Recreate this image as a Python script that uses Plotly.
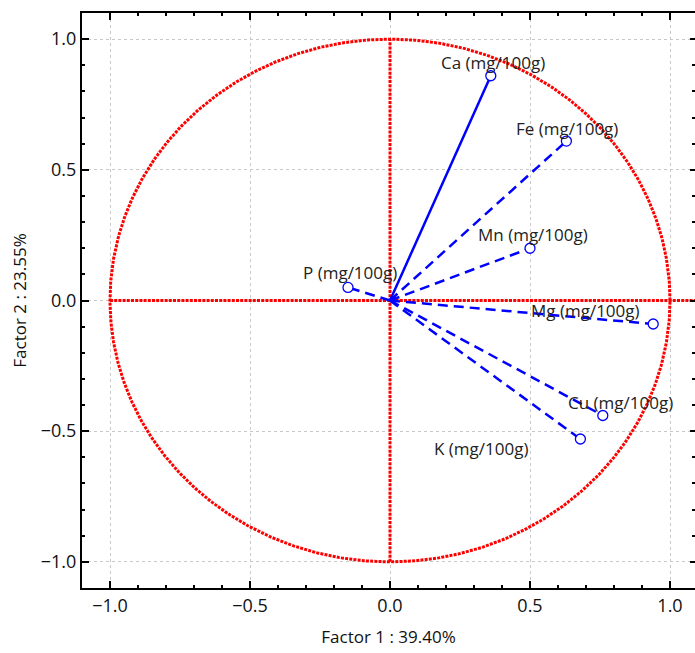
import numpy as np
import plotly.graph_objects as go

# Variables (loadings on Factor 1 and Factor 2)
variables = ["Ca (mg/100g)", "Fe (mg/100g)", "Mn (mg/100g)", "P (mg/100g)",
             "Mg (mg/100g)", "Cu (mg/100g)", "K (mg/100g)"]
factor1 = [0.36, 0.63, 0.50, -0.15, 0.94, 0.76, 0.68]
factor2 = [0.86, 0.61, 0.20, 0.05, -0.09, -0.44, -0.53]
line_styles = ["solid", "dash", "dash", "dash", "dash", "dash", "dash"]
# label offsets in pixels (xshift, yshift)
label_shift_x = [2, 1, 3, 2, -68, 18, -99]
label_shift_y = [13, 13, 14, 15, 14, 13, -9]

x_title = "Factor 1 : 39.40%"
y_title = "Factor 2 : 23.55%"
tick_vals = [-1.0, -0.5, 0.0, 0.5, 1.0]

FONT = "Open Sans"
W, H = 695, 653
ML, MR, MT, MB = 82, 0, 13, 65
px_per_unit = 280.0
x_min = -1.1
x_max = x_min + (W - ML - MR) / px_per_unit

fig = go.Figure()

red_line = dict(color="#ff0000", width=3, dash="3px,1.2px")
# unit circle
t = np.linspace(0, 2 * np.pi, 721)
fig.add_trace(go.Scatter(x=np.cos(t), y=np.sin(t), mode="lines",
                         line=red_line, hoverinfo="skip", showlegend=False))
# red axes through origin
fig.add_trace(go.Scatter(x=[-1.0, x_max], y=[0, 0], mode="lines",
                         line=red_line, hoverinfo="skip", showlegend=False))
fig.add_trace(go.Scatter(x=[0, 0], y=[-1.0, 1.0], mode="lines",
                         line=red_line, hoverinfo="skip", showlegend=False))

# vectors
for name, fx, fy, ls in zip(variables, factor1, factor2, line_styles):
    fig.add_trace(go.Scatter(
        x=[0, fx], y=[0, fy], mode="lines",
        line=dict(color="#0000ff", width=2.5,
                  dash="solid" if ls == "solid" else "10px,6px"),
        hoverinfo="skip", showlegend=False))

fig.add_trace(go.Scatter(
    x=factor1, y=factor2, mode="markers",
    marker=dict(symbol="circle", size=10, color="white",
                line=dict(color="#0000ff", width=1.3)),
    text=variables, hoverinfo="text", showlegend=False))

for name, fx, fy, sx, sy in zip(variables, factor1, factor2, label_shift_x, label_shift_y):
    fig.add_annotation(x=fx, y=fy, text=name, showarrow=False,
                       xshift=sx, yshift=sy,
                       font=dict(family=FONT, size=17, color="#222222"))

# invisible trace for right-side tick axis
fig.add_trace(go.Scatter(x=[None], y=[None], yaxis="y2", showlegend=False,
                         hoverinfo="skip"))

axis_common = dict(
    tickmode="array", tickvals=tick_vals, tickformat=".1f",
    ticks="inside", ticklen=7, tickwidth=2, tickcolor="black",
    showgrid=True, gridcolor="#c8c8c8", griddash="3px,3px", gridwidth=1,
    zeroline=False, showline=True, linecolor="black", linewidth=2,
    tickfont=dict(family=FONT, size=18, color="#111111"),
    minor=dict(dtick=0.1, tick0=0, ticks="inside", ticklen=3, tickwidth=1.5,
               tickcolor="black", showgrid=False),
)

fig.update_layout(
    width=W, height=H,
    margin=dict(l=ML, r=MR, t=MT, b=MB),
    paper_bgcolor="white", plot_bgcolor="white",
    xaxis=dict(axis_common, range=[x_min, x_max], mirror="ticks",
               title=dict(text=x_title, standoff=16,
                          font=dict(family=FONT, size=17, color="#111111"))),
    yaxis=dict(axis_common, range=[-1.1, 1.1], mirror=False,
               title=dict(text=y_title, standoff=10,
                          font=dict(family=FONT, size=17, color="#111111"))),
    yaxis2=dict(overlaying="y", side="right", range=[-1.1, 1.1],
                tickmode="array", tickvals=tick_vals, showticklabels=False,
                ticks="inside", ticklen=5, tickwidth=2, tickcolor="black",
                showgrid=False, zeroline=False, showline=False,
                minor=dict(dtick=0.1, tick0=0, ticks="inside", ticklen=3,
                           tickwidth=1.5, tickcolor="black", showgrid=False)),
)

fig.write_html(
    "out.html",
    config={"displayModeBar": False},
    post_script="document.body.style.margin='0';document.body.style.overflow='hidden';",
)
